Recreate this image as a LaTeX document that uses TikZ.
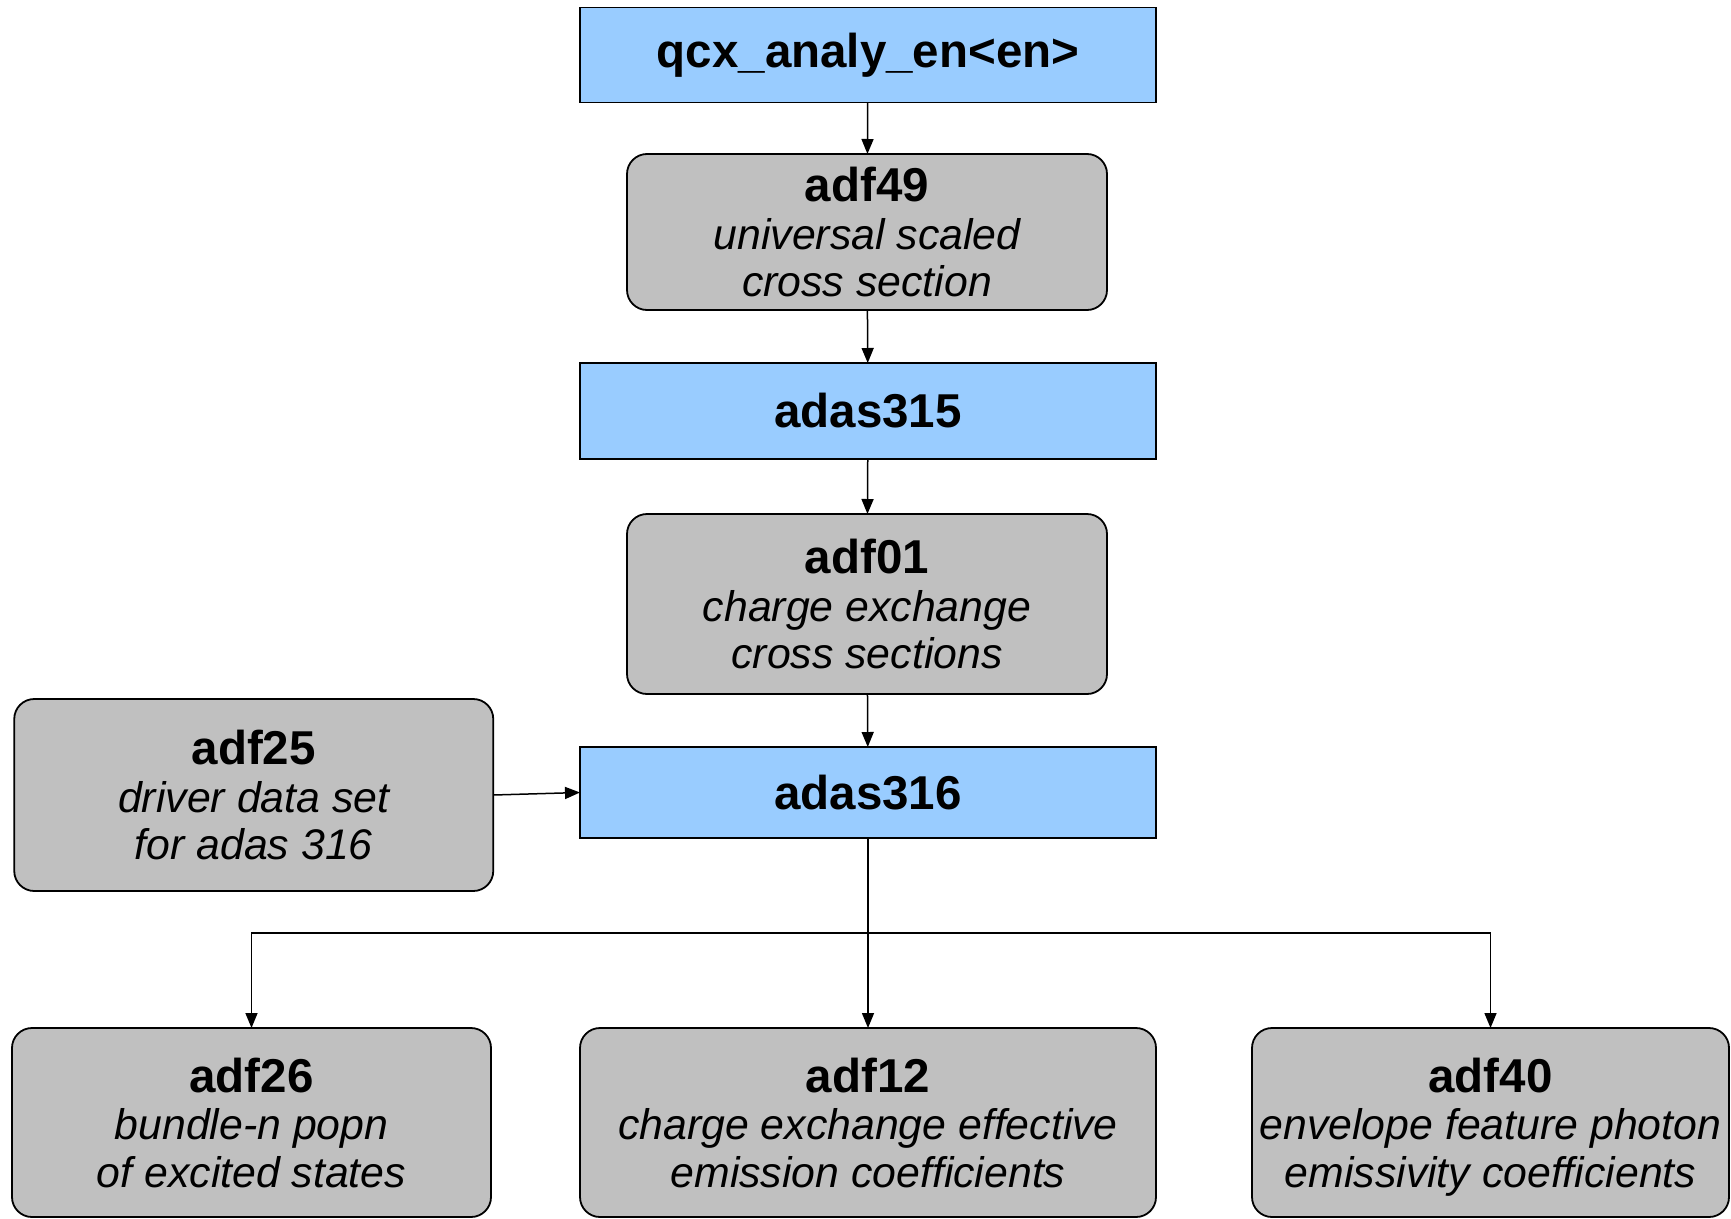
\documentclass[tikz,border=0pt]{standalone}
\usepackage{fontspec}
\setmainfont{Liberation Sans}
\usetikzlibrary{arrows.meta}
\definecolor{boxblue}{HTML}{99CCFF}
\definecolor{boxgrey}{HTML}{C0C0C0}
\newcommand{\bxt}[3]{{\fontsize{47.5}{48}\selectfont\bfseries #1}\\{\itshape #2}\\{\itshape\raisebox{0pt}[\height][0pt]{#3}}}
\begin{document}
\begin{tikzpicture}[x=1pt,y=-1pt,
  prog/.style={draw=black, line width=1.8pt, fill=boxblue, inner sep=0pt, outer sep=0pt,
    font=\fontsize{47.5}{48}\selectfont\bfseries},
  data/.style={draw=black, line width=1.8pt, fill=boxgrey, rounded corners=20pt, inner sep=0pt, outer sep=0pt,
    align=center, font=\fontsize{42.8}{47.5}\selectfont},
  conn/.style={line width=1.5pt, -{Triangle[length=15pt,width=12pt]}}]
\useasboundingbox (0,0) rectangle (1731,1218);
\fill[white] (0,0) rectangle (1731,1218);
\node[prog, minimum width=576pt, minimum height=95pt] (qcx) at (868,55) {\raisebox{-2pt}{qcx\_analy\_en<en>}};
\node[data, minimum width=480pt, minimum height=156pt] (adf49) at (867,232) {\bxt{adf49}{universal scaled}{cross section}};
\node[prog, minimum width=576pt, minimum height=96pt] (adas315) at (868,411) {adas315};
\node[data, minimum width=480pt, minimum height=180pt] (adf01) at (867,604) {\bxt{adf01}{charge exchange}{cross sections}};
\node[prog, minimum width=576pt, minimum height=91pt] (adas316) at (868,792.5) {adas316};
\node[data, minimum width=479pt, minimum height=192pt] (adf25) at (253.75,795) {\bxt{adf25}{driver data set}{for adas 316}};
\node[data, minimum width=479pt, minimum height=189pt] (adf26) at (251.5,1122.5) {\bxt{adf26}{bundle-n popn}{of excited states}};
\node[data, minimum width=576pt, minimum height=189pt] (adf12) at (868,1122.5) {\bxt{adf12}{charge exchange effective}{emission coefficients}};
\node[data, minimum width=477pt, minimum height=189pt] (adf40) at (1490.5,1122.5) {\bxt{adf40}{envelope feature photon}{emissivity coefficients}};
\coordinate (split) at (868,933);
\draw[conn] (qcx) -- (adf49);
\draw[conn] (adf49) -- (adas315);
\draw[conn] (adas315) -- (adf01);
\draw[conn] (adf01) -- (adas316);
\draw[conn] (adf25.east) -- (adas316.west);
\draw[conn] (adas316.south) -- (adf12.north);
\draw[conn] (split) -| (adf26.north);
\draw[conn] (split) -| (adf40.north);
\end{tikzpicture}
\end{document}
